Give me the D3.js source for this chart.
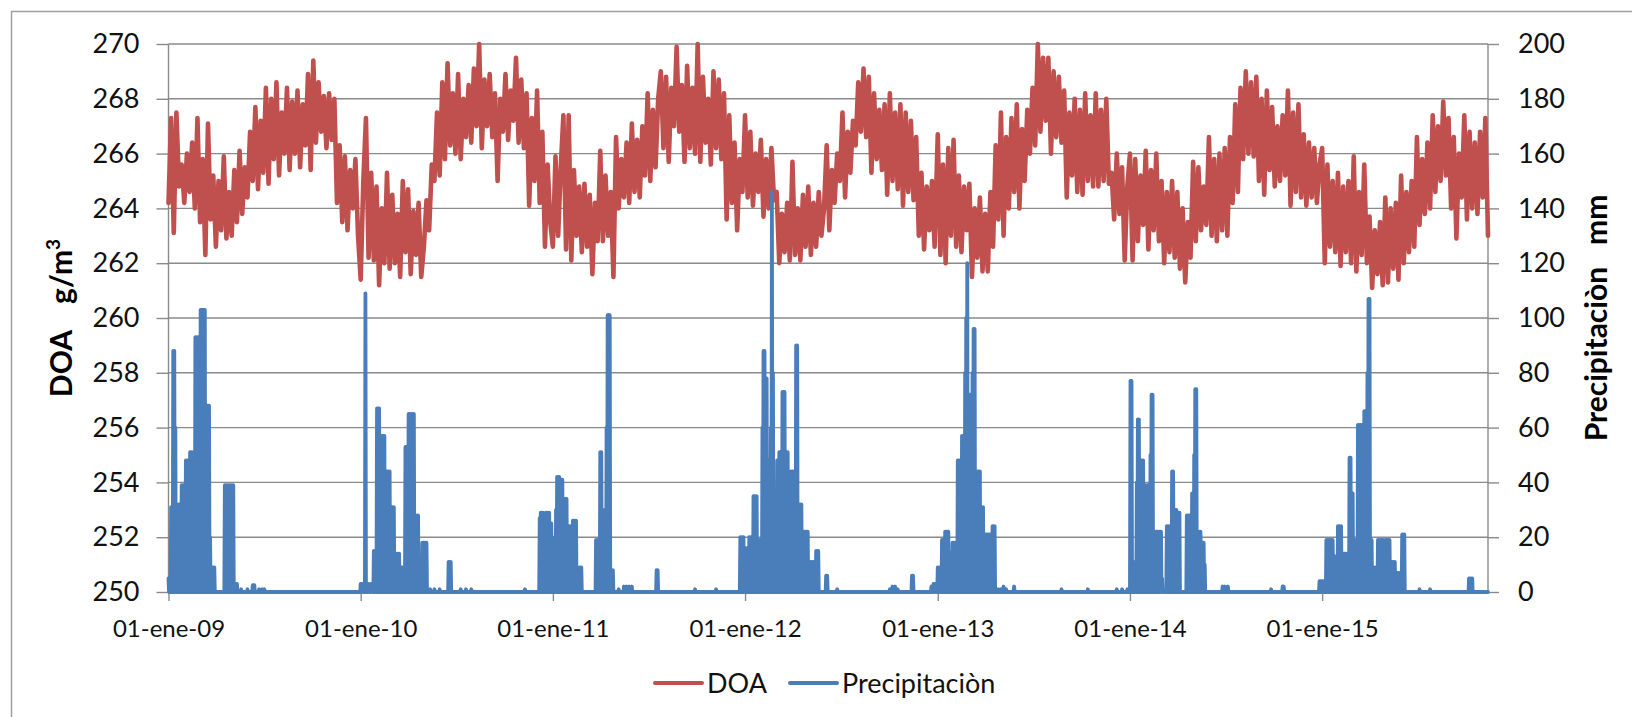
<!DOCTYPE html>
<html>
<head>
<meta charset="utf-8">
<script src="https://cdn.jsdelivr.net/npm/d3@7"></script>
<style>
  html, body { margin: 0; padding: 0; background: #fff; }
  svg { display: block; font-family: Lato, "Open Sans", "DejaVu Sans", sans-serif; }
</style>
</head>
<body>
<svg id="chart" width="1632" height="717"></svg>
<script>
// DOA (g/m3), one reading every 5 days from 1 January of each year
const doa2009 = [
  264.2,267.3,263.1,267.5,264.8,265.6,
  264.2,266.0,264.6,266.4,264.0,267.3,
  263.5,265.8,262.3,267.1,263.6,265.2,
  262.6,265.0,263.2,265.9,262.9,264.6,
  263.0,265.4,263.5,266.1,263.8,265.5,
  264.4,266.8,265.0,267.7,264.7,267.2,
  265.3,268.4,264.9,268.0,265.8,268.6,
  265.2,267.5,266.0,268.4,265.4,267.9,
  266.0,268.3,265.5,267.8,266.3,268.9,
  265.4,269.4,266.4,268.6,266.8,268.1,
  266.2,268.2,266.5,268.0,264.2,266.3,
  263.5,265.9,263.2,265.4,264.0,265.8,263.0];
const doa2010 = [
  261.4,265.0,267.3,262.2,265.3,262.1,
  264.8,261.2,264.0,262.0,265.3,261.8,
  264.5,262.0,263.8,261.5,265.0,262.4,
  264.7,261.6,263.9,262.3,264.2,261.5,
  262.6,264.3,263.2,265.6,265.0,267.5,
  265.2,268.6,265.8,269.3,266.3,268.2,
  266.0,268.9,265.8,268.0,266.6,268.5,
  266.4,269.1,267.0,270.0,266.2,268.7,
  267.0,268.9,266.6,268.2,265.0,268.0,
  266.8,268.9,266.5,268.3,267.2,269.5,
  266.4,268.7,266.2,268.2,264.1,267.3,
  265.0,268.3,264.2,266.8,262.6,265.6,263.5];
const doa2011 = [
  262.6,265.9,263.0,265.5,267.4,262.5,
  267.4,262.1,265.4,263.0,264.8,262.4,
  264.9,262.6,264.5,261.6,264.2,262.8,
  266.1,262.8,265.2,263.0,264.6,261.5,
  266.6,264.0,265.8,264.4,266.4,264.2,
  267.1,264.6,266.5,264.4,267.0,265.2,
  268.2,265.0,267.6,265.5,268.0,269.0,
  266.2,268.8,265.7,268.4,267.0,269.9,
  266.8,268.5,265.7,269.2,266.2,268.4,
  266.0,270.0,265.7,268.8,266.4,268.0,
  265.6,269.0,266.2,268.7,265.8,268.2,
  263.6,267.4,264.2,266.4,263.2,265.8,264.6];
const doa2012 = [
  267.4,264.4,266.8,264.1,266.0,264.6,
  266.5,263.7,265.8,264.0,266.2,264.3,
  264.6,262.0,263.8,262.4,264.2,262.1,
  265.7,262.3,264.0,262.1,264.5,262.6,
  264.8,262.3,264.2,262.6,264.6,263.0,
  264.0,266.3,263.2,265.4,264.2,266.0,
  265.0,267.5,264.4,266.8,265.3,267.2,
  266.3,268.6,266.8,269.1,266.6,268.8,
  265.3,268.2,265.8,267.6,265.4,267.8,
  264.5,268.2,265.0,267.5,264.7,267.8,
  264.1,267.5,264.6,267.2,264.3,266.6,
  263.0,265.3,262.5,264.8,263.2,265.0,262.6];
const doa2013 = [
  266.7,262.3,265.6,262.0,266.2,263.0,
  266.5,262.6,265.2,262.4,264.8,263.2,
  264.9,261.5,264.0,262.2,264.4,261.7,
  263.8,261.7,264.6,262.6,266.3,263.6,
  267.5,263.0,266.6,264.0,267.3,264.6,
  267.8,264.0,266.9,265.0,267.6,266.0,
  268.4,266.3,270.0,266.8,269.5,267.2,
  269.5,266.0,269.0,266.6,268.8,266.4,
  268.3,264.4,267.5,265.2,268.0,264.6,
  267.6,264.5,268.2,265.0,267.4,264.8,
  268.2,264.8,267.6,265.0,268.0,264.9,
  265.3,263.6,266.0,263.8,265.5,262.1,264.8];
const doa2014 = [
  266.0,262.1,265.8,262.8,265.2,263.4,
  266.1,262.5,265.4,263.2,266.0,262.8,
  265.0,262.0,264.6,262.4,265.0,262.2,
  264.6,261.8,264.0,261.3,263.5,262.2,
  265.7,262.8,265.5,263.2,264.8,263.4,
  266.6,263.0,265.8,262.8,266.0,263.2,
  266.2,263.0,266.6,264.2,267.8,264.6,
  268.4,265.8,269.0,266.0,268.6,265.9,
  268.8,265.0,268.0,264.5,268.3,265.4,
  267.7,264.8,267.0,265.0,267.4,265.2,
  268.3,264.1,267.5,264.6,267.8,264.4,
  266.7,264.1,266.4,264.4,266.2,264.2,265.6];
const doa2015 = [
  266.2,262.0,265.6,262.6,265.0,262.4,
  265.3,261.9,264.8,262.4,265.0,262.0,
  265.9,261.7,264.6,262.3,265.6,262.0,
  263.7,261.1,263.2,261.6,263.5,261.2,
  264.4,261.3,264.0,261.8,264.2,261.4,
  265.2,262.0,264.6,262.4,265.0,262.6,
  266.6,263.4,265.8,263.8,266.4,264.0,
  267.4,264.6,267.0,265.0,267.9,265.2,
  267.3,264.0,266.6,262.9,266.0,264.4,
  267.4,263.6,266.8,264.0,266.4,263.8,
  266.8,264.4,267.3,263.0];

// Daily precipitation (mm): [day of year, mm]; unlisted days are dry (0 mm)
const rain2009 = [[0,5],[3,5],[5,31],[7,31],[9,88],[11,88],[13,60],[15,31],[17,32],[19,32],[21,32],[23,32],
  [25,39],[27,39],[29,39],[31,39],[33,48],[35,48],[37,48],[39,48],[41,51],[43,51],[45,51],[47,51],[49,51],
  [51,93],[53,93],[55,93],[57,93],[59,93],[61,103],[63,103],[65,103],[67,103],[69,103],[71,68],[73,68],
  [75,68],[77,68],[79,20],[81,8],[84,9],[87,9],[107,39],[109,39],[111,39],[113,39],[115,39],[117,39],
  [119,39],[121,39],[123,39],[127,3],[130,3],[138,1],[150,1],[160,2.5],[163,2.5],[172,1],[178,1],[182,1]];
const rain2010 = [[0,3],[3,3],[9,109],[15,3],[20,3],[25,15],[27,15],[29,15],[31,67],[33,67],[35,67],
  [37,57],[39,57],[41,57],[43,57],[45,57],[47,44],[49,44],[51,44],[53,44],[55,44],[57,31],[59,31],[61,31],
  [63,31],[65,7],[67,7],[69,14],[71,14],[73,14],[75,9],[77,9],[79,9],[81,9],[83,9],[85,53],[87,53],[89,53],
  [91,65],[93,65],[95,65],[97,65],[99,65],[101,65],[103,28],[105,28],[107,28],[109,28],[111,7],[113,7],
  [115,7],[117,18],[119,18],[121,18],[123,18],[125,18],[132,1],[140,1],[150,1],[167,11],[169,11],[171,11],
  [190,1],[200,1],[210,1],[312,1],[340,27],[342,29],[344,29],[346,29],[348,25],[350,27],[352,29],[354,29],
  [356,27],[358,29],[360,25],[362,25]];
const rain2011 = [[4,20],[6,30],[8,42],[10,42],[12,42],[14,41],[16,41],[18,41],[20,34],[22,34],[24,34],
  [26,34],[28,22],[30,24],[32,24],[34,24],[36,24],[38,26],[40,26],[42,26],[44,26],[46,9],[48,9],[50,9],
  [52,9],[54,9],[82,19],[84,19],[86,19],[88,19],[90,51],[92,51],[94,25],[96,20],[98,30],[100,30],[102,60],
  [104,101],[106,101],[108,101],[110,8],[112,8],[114,8],[125,1],[135,2],[140,2],[145,2],[150,2],[197,8],
  [199,8],[270,1],[310,1],[356,20],[358,20],[360,20],[362,20],[364,16]];
const rain2012 = [[0,16],[2,16],[4,16],[6,16],[8,20],[10,20],[12,20],[14,20],[16,35],[18,35],[20,35],
  [22,35],[24,19],[26,19],[28,19],[30,19],[33,60],[35,88],[37,88],[39,78],[41,78],[43,48],[45,48],[47,30],
  [49,60],[51,146],[53,80],[55,27],[57,27],[59,27],[61,48],[63,48],[65,51],[67,51],[69,51],[71,73],[73,73],
  [75,73],[77,51],[79,51],[81,51],[83,24],[85,24],[87,44],[89,44],[91,44],[93,44],[95,44],[97,90],[99,90],
  [101,32],[103,32],[105,32],[107,32],[109,22],[111,22],[113,22],[115,22],[117,22],[119,22],[121,11],
  [123,11],[125,11],[127,11],[129,11],[131,11],[133,11],[135,15],[137,15],[139,15],[154,6],[156,6],[175,1],
  [275,1],[280,2],[285,2],[290,1],[317,6],[319,6],[354,2],[358,3],[361,3]];
const rain2013 = [[0,9],[2,9],[4,9],[6,9],[8,19],[10,19],[12,19],[14,22],[16,22],[18,22],[20,22],[22,14],
  [24,14],[26,14],[28,18],[30,18],[32,18],[34,18],[36,18],[38,48],[40,48],[42,48],[44,48],[46,57],[48,57],
  [50,57],[52,80],[54,100],[56,120],[58,72],[60,72],[62,72],[64,72],[66,80],[68,96],[70,96],[72,44],[74,44],
  [76,44],[78,44],[80,44],[82,31],[84,31],[86,31],[88,10],[90,21],[92,21],[94,21],[96,21],[98,21],[100,21],
  [102,21],[104,24],[106,24],[108,24],[115,1],[120,1],[125,2],[130,1],[145,2],[235,1],[285,1],[340,1],
  [350,1],[360,1]];
const rain2014 = [[1,77],[3,77],[5,11],[7,11],[9,11],[11,11],[13,40],[15,63],[17,63],[19,48],[21,48],
  [23,48],[25,48],[27,39],[29,39],[31,39],[33,39],[35,39],[37,39],[39,50],[41,72],[43,72],[45,22],[47,22],
  [49,22],[51,22],[53,22],[55,22],[57,22],[59,22],[61,5],[70,24],[72,24],[74,24],[76,24],[78,24],[80,44],
  [82,44],[84,30],[86,30],[88,30],[90,29],[92,29],[94,29],[108,28],[110,28],[112,28],[114,28],[116,28],
  [118,36],[120,36],[122,50],[124,74],[126,74],[128,22],[130,22],[132,22],[134,22],[136,18],[138,18],
  [140,18],[142,10],[176,2],[180,2],[186,2],[268,1],[290,2],[292,2],[360,4],[362,4]];
const rain2015 = [[0,4],[2,4],[8,19],[10,19],[12,19],[14,19],[16,19],[18,19],[20,19],[22,13],[24,13],
  [26,13],[28,13],[30,24],[32,24],[34,24],[36,24],[38,14],[40,14],[42,14],[44,14],[46,14],[48,14],[50,14],
  [52,49],[54,49],[56,36],[58,36],[60,19],[62,19],[64,19],[66,19],[68,61],[70,61],[72,61],[74,61],[76,61],
  [78,61],[80,66],[82,66],[84,66],[86,80],[88,107],[90,107],[92,19],[94,19],[96,9],[98,9],[100,9],[102,9],
  [104,9],[106,19],[108,19],[110,19],[112,19],[114,19],[116,19],[118,10],[120,19],[122,19],[124,19],
  [126,19],[128,19],[130,11],[132,11],[134,11],[136,11],[138,11],[140,7],[142,7],[144,7],[146,7],[148,7],
  [150,7],[152,21],[154,21],[156,21],[185,1],[205,1],[279,5],[281,5],[283,5],[285,5]];

const years = [2009, 2010, 2011, 2012, 2013, 2014, 2015];
const doaByYear = [doa2009, doa2010, doa2011, doa2012, doa2013, doa2014, doa2015];
const rainByYear = [rain2009, rain2010, rain2011, rain2012, rain2013, rain2014, rain2015];
const doaTicks = [250, 252, 254, 256, 258, 260, 262, 264, 266, 268, 270];
const rainTicks = [0, 20, 40, 60, 80, 100, 120, 140, 160, 180, 200];
const seriesNames = ["DOA", "Precipitaciòn"];
const colors = { doa: "#C0504D", rain: "#4A7EBB" };

// ---- assemble series ----
const doaSeries = [];
years.forEach((yr, k) => {
  doaByYear[k].forEach((v, i) => doaSeries.push({ date: new Date(yr, 0, 1 + 5 * i), value: v }));
});
const startDate = new Date(2009, 0, 1);
const endDate = doaSeries[doaSeries.length - 1].date;

const rainLookup = new Map();
years.forEach((yr, k) => {
  rainByYear[k].forEach(([d, mm]) => rainLookup.set(+new Date(yr, 0, 1 + d), mm));
});
const rainSeries = d3.timeDay.range(startDate, d3.timeDay.offset(endDate, 1))
  .map(d => ({ date: d, value: rainLookup.get(+d) || 0 }));

// ---- layout ----
const plot = { left: 168.5, right: 1488, top: 44, bottom: 592 };
const svg = d3.select("#chart");

// chart frame
svg.append("rect")
  .attr("x", 11.5).attr("y", 11.5).attr("width", 1700).attr("height", 800)
  .attr("fill", "#fff").attr("stroke", "#a0a0a0").attr("stroke-width", 1.5);

const x = d3.scaleTime().domain([startDate, endDate]).range([plot.left, plot.right]);
const yL = d3.scaleLinear().domain([250, 270]).range([plot.bottom, plot.top]);
const yR = d3.scaleLinear().domain([0, 200]).range([plot.bottom, plot.top]);

const gridColor = "#8a8a8a";

// horizontal gridlines
svg.append("g").selectAll("line").data(doaTicks).join("line")
  .attr("x1", plot.left).attr("x2", plot.right)
  .attr("y1", d => yL(d)).attr("y2", d => yL(d))
  .attr("stroke", gridColor).attr("stroke-width", 1.4);

// left axis
const gL = svg.append("g").attr("transform", `translate(${plot.left},0)`)
  .call(d3.axisLeft(yL).tickValues(doaTicks).tickSize(12).tickPadding(17).tickFormat(d3.format("d")));
// right axis
const gR = svg.append("g").attr("transform", `translate(${plot.right},0)`)
  .call(d3.axisRight(yR).tickValues(rainTicks).tickSize(11).tickPadding(19).tickFormat(d3.format("d")));
// bottom axis
const yearTicks = d3.timeYear.range(startDate, endDate);
const esMonth = ["ene","feb","mar","abr","may","jun","jul","ago","sep","oct","nov","dic"];
const gB = svg.append("g").attr("transform", `translate(0,${plot.bottom})`)
  .call(d3.axisBottom(x).tickValues(yearTicks).tickSize(9)
    .tickFormat(d => d3.timeFormat("%d")(d) + "-" + esMonth[d.getMonth()] + "-" + d3.timeFormat("%y")(d)));

[gL, gR, gB].forEach(g => {
  g.select(".domain").remove();
  g.selectAll(".tick line").attr("stroke", gridColor).attr("stroke-width", 1.4);
  g.selectAll("text").attr("fill", "#111").attr("font-family", "Lato, 'Open Sans', sans-serif");
});
gL.selectAll("text").attr("font-size", 27);
gR.selectAll("text").attr("font-size", 27);
gB.selectAll("text").attr("font-size", 24).attr("y", 45).attr("dy", 0);

// axis lines
svg.append("line").attr("x1", plot.left).attr("x2", plot.left)
  .attr("y1", plot.top).attr("y2", plot.bottom).attr("stroke", gridColor).attr("stroke-width", 1.4);
svg.append("line").attr("x1", plot.right).attr("x2", plot.right)
  .attr("y1", plot.top).attr("y2", plot.bottom).attr("stroke", gridColor).attr("stroke-width", 1.4);
svg.append("line").attr("x1", plot.left).attr("x2", plot.right)
  .attr("y1", plot.bottom).attr("y2", plot.bottom).attr("stroke", gridColor).attr("stroke-width", 1.4);

// series
svg.append("path").datum(doaSeries)
  .attr("fill", "none").attr("stroke", colors.doa).attr("stroke-width", 4.6)
  .attr("stroke-linejoin", "round").attr("stroke-linecap", "round")
  .attr("d", d3.line().x(d => x(d.date)).y(d => yL(d.value)));

svg.append("path").datum(rainSeries)
  .attr("fill", "none").attr("stroke", colors.rain).attr("stroke-width", 3.8)
  .attr("stroke-linejoin", "round").attr("stroke-linecap", "round")
  .attr("d", d3.line().x(d => x(d.date)).y(d => yR(d.value)));

// axis titles
const titleL = svg.append("text")
  .attr("transform", `translate(72,${(plot.top + plot.bottom) / 2}) rotate(-90)`)
  .attr("text-anchor", "middle").attr("font-size", 30).attr("font-weight", 700).attr("fill", "#000");
titleL.append("tspan").text("DOA");
titleL.append("tspan").attr("dx", 26).text("g/m");
titleL.append("tspan").attr("font-size", 19).attr("dy", -12).text("3");

const titleR = svg.append("text")
  .attr("transform", `translate(1607,${(plot.top + plot.bottom) / 2}) rotate(-90)`)
  .attr("text-anchor", "middle").attr("font-size", 30).attr("font-weight", 700).attr("fill", "#000");
titleR.append("tspan").text("Precipitaciòn");
titleR.append("tspan").attr("dx", 22).text("mm");

// legend
const legend = svg.append("g");
const legendItems = [
  { name: seriesNames[0], color: colors.doa, x0: 655 },
  { name: seriesNames[1], color: colors.rain, x0: 790 }
];
legendItems.forEach(it => {
  legend.append("line").attr("x1", it.x0).attr("x2", it.x0 + 47)
    .attr("y1", 683).attr("y2", 683).attr("stroke", it.color).attr("stroke-width", 4)
    .attr("stroke-linecap", "round");
  legend.append("text").attr("x", it.x0 + 52).attr("y", 693)
    .attr("font-size", 27).attr("fill", "#111").text(it.name);
});
</script>
</body>
</html>
